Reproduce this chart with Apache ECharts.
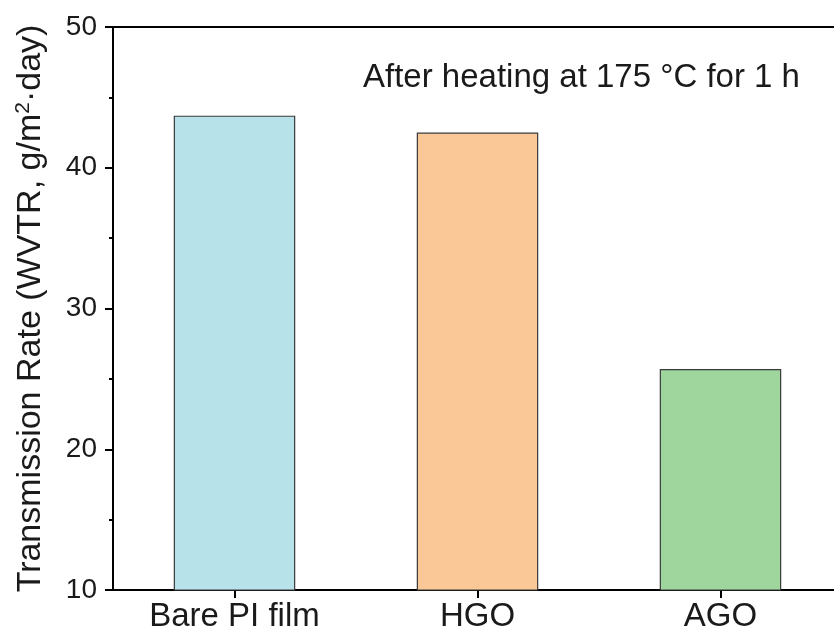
<!DOCTYPE html>
<html>
<head>
<meta charset="utf-8">
<script src="https://cdn.jsdelivr.net/npm/echarts@6/dist/echarts.min.js"></script>
<style>html,body{margin:0;padding:0;background:#fff}#c{width:834px;height:637px}</style>
</head>
<body>
<div id="c"></div>
<script>
const categories = ['Bare PI film', 'HGO', 'AGO'];
const values = [43.7, 42.5, 25.7];
const barColors = ['#b8e2ea', '#f9c896', '#9fd69e'];
const yTicks = [10, 20, 30, 40, 50];

const chart = echarts.init(document.getElementById('c'));
const font = 'Liberation Sans, Arial, sans-serif';
chart.setOption({
  animation: false,
  grid: { left: 113, top: 27, width: 729, height: 563, outerBoundsMode: 'none', containLabel: false, show: true, borderColor: '#000', borderWidth: 2 },
  xAxis: {
    type: 'category',
    data: categories,
    axisLine: { lineStyle: { color: '#000', width: 2 } },
    axisTick: { show: true, alignWithLabel: true, length: 8, lineStyle: { color: '#000', width: 2 } },
    axisLabel: { fontFamily: font, fontSize: 33, color: '#1a1a1a', margin: 10 }
  },
  yAxis: {
    type: 'value',
    min: yTicks[0], max: yTicks[yTicks.length - 1], interval: 10,
    axisLine: { show: true, lineStyle: { color: '#000', width: 2 } },
    axisTick: { show: true, length: 8, lineStyle: { color: '#000', width: 2 } },
    minorTick: { show: true, splitNumber: 2, length: 4, lineStyle: { color: '#000', width: 2 } },
    splitLine: { show: false },
    axisLabel: { fontFamily: font, fontSize: 28, color: '#1a1a1a', margin: 16 },
    name: 'Transmission Rate (WVTR, g/m{sup|2}·day)',
    nameLocation: 'middle',
    nameGap: 65,
    nameTextStyle: {
      fontFamily: font, fontSize: 34, color: '#1a1a1a',
      rich: { sup: { fontFamily: font, fontSize: 21, color: '#1a1a1a', verticalAlign: 'top', padding: [0, 0, 14, 0] } }
    }
  },
  series: [{
    type: 'bar',
    barWidth: '50%',
    data: values.map((v, i) => ({ value: v, itemStyle: { color: barColors[i] } })),
    itemStyle: { borderColor: '#3a3a3a', borderWidth: 1.2 }
  }],
  graphic: [{
    type: 'text',
    left: 363, top: 61,
    style: { text: 'After heating at 175 °C for 1 h', fontFamily: font, fontSize: 33, fill: '#1a1a1a' }
  }]
});
</script>
</body>
</html>
